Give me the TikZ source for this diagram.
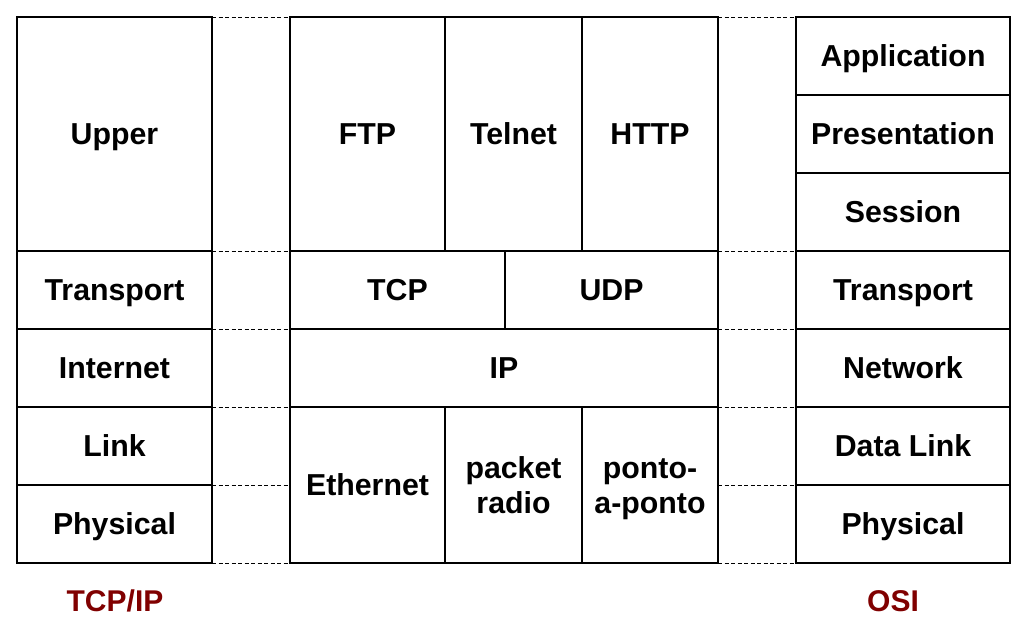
\documentclass[tikz,border=0pt]{standalone}
\usepackage{fontspec}
\setmainfont{Liberation Sans}
\begin{document}
\begin{tikzpicture}[x=1pt,y=-1pt,
  cell/.style={draw=black, line width=2.8pt, rectangle, inner sep=0pt, outer sep=0pt,
    font=\fontsize{30.3}{35}\selectfont\bfseries, align=center,
    text height=21.7pt, text depth=0pt},
  twoline/.style={text height=56.7pt},
  gapline/.style={draw=black, line width=1pt, dash pattern=on 4pt off 2.5pt},
  caption/.style={font=\fontsize{30}{35}\selectfont\bfseries, text=capred,
    text height=21.5pt, text depth=0pt}]
\definecolor{capred}{RGB}{128,0,0}
\useasboundingbox (0,0) rectangle (1030,640);
\newcommand{\cellbox}[7][]{\node[cell, #1, minimum width={#5-#3}, minimum height={#6-#4}] (#2) at ({(#3+#5)/2},{(#4+#6)/2}) {#7};}
% left column (TCP/IP)
\cellbox{upper}{17}{17}{212}{251}{Upper}
\cellbox{ltrans}{17}{251}{212}{329}{Transport}
\cellbox{inet}{17}{329}{212}{407}{Internet}
\cellbox{link}{17}{407}{212}{485}{Link}
\cellbox{lphys}{17}{485}{212}{563}{Physical}
% middle column
\cellbox{ftp}{290}{17}{445}{251}{FTP}
\cellbox{telnet}{445}{17}{582}{251}{Telnet}
\cellbox{http}{582}{17}{718}{251}{HTTP}
\cellbox{tcp}{290}{251}{505}{329}{TCP}
\cellbox{udp}{505}{251}{718}{329}{UDP}
\cellbox{ip}{290}{329}{718}{407}{IP}
\cellbox{eth}{290}{407}{445}{563}{Ethernet}
\cellbox[twoline]{radio}{445}{407}{582}{563}{packet\\radio}
\cellbox[twoline]{ptp}{582}{407}{718}{563}{ponto-\\a-ponto}
% right column (OSI)
\cellbox{app}{796}{17}{1010}{95}{Application}
\cellbox{pres}{796}{95}{1010}{173}{Presentation}
\cellbox{sess}{796}{173}{1010}{251}{Session}
\cellbox{rtrans}{796}{251}{1010}{329}{Transport}
\cellbox{net}{796}{329}{1010}{407}{Network}
\cellbox{dlink}{796}{407}{1010}{485}{Data Link}
\cellbox{rphys}{796}{485}{1010}{563}{Physical}
% dashed guide lines, left gap
\draw[gapline] (upper.north east) -- (ftp.north west);
\draw[gapline] (upper.south east) -- (ftp.south west);
\draw[gapline] (ltrans.south east) -- (tcp.south west);
\draw[gapline] (inet.south east) -- (ip.south west);
\draw[gapline] (link.south east) -- (eth.west |- link.south);
\draw[gapline] (lphys.south east) -- (eth.south west);
% dashed guide lines, right gap
\draw[gapline] (http.north east) -- (app.north west);
\draw[gapline] (http.south east) -- (sess.south west);
\draw[gapline] (udp.south east) -- (rtrans.south west);
\draw[gapline] (ip.south east) -- (net.south west);
\draw[gapline] (ptp.east |- dlink.south) -- (dlink.south west);
\draw[gapline] (ptp.south east) -- (rphys.south west);
% captions
\node[caption] (tcpip) at (115,601) {TCP/IP};
\node[caption] (osi) at (893,601) {OSI};
\end{tikzpicture}
\end{document}
